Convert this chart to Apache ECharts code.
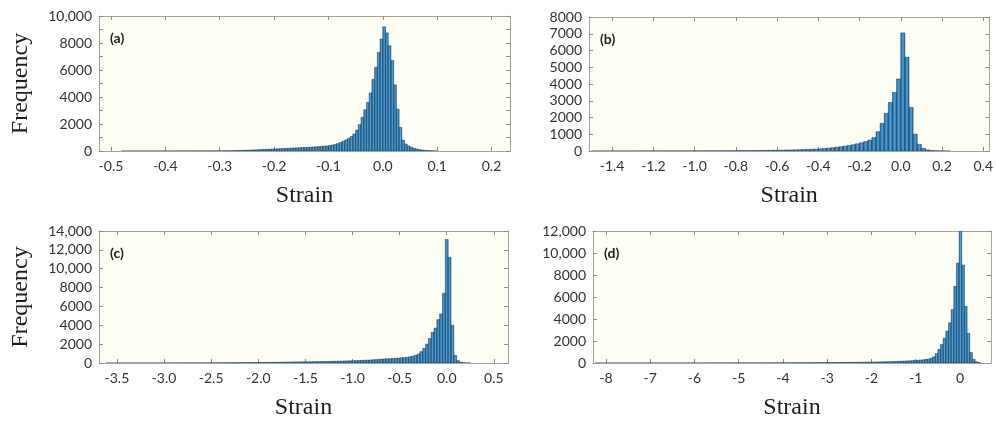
<!DOCTYPE html>
<html>
<head>
<meta charset="utf-8">
<script src="https://cdn.jsdelivr.net/npm/echarts@6/dist/echarts.min.js"></script>
<style>
  html, body { margin: 0; padding: 0; background: #ffffff; }
  #chart { width: 996px; height: 421px; }
</style>
</head>
<body>
<div id="chart"></div>
<script>
// ---- Histogram data: strain bins (start, width) and frequency counts ----

// (a) bins of 0.005 from -0.5 to 0.1
const aBinStart = -0.5;
const aBinWidth = 0.005;
const aCounts = [
  0, 0, 0, 0, 1, 1, 1, 1, 1, 1, 1, 1, 1, 1, 2, 2, 2, 2, 2, 2,
  3, 3, 3, 3, 4, 4, 4, 5, 5, 5, 6, 6, 7, 7, 8, 8, 9, 10, 11, 12,
  14, 16, 18, 21, 25, 30, 36, 42, 48, 55, 62, 70, 78, 86, 95, 105, 115, 125, 135, 145,
  155, 165, 175, 185, 195, 205, 215, 225, 235, 245, 255, 265, 275, 285, 297, 310, 325, 340, 357, 375,
  400, 440, 490, 550, 630, 720, 820, 940, 1080, 1260,
  1550, 1950, 2500, 3050, 3600, 4300, 5300, 6200, 7300, 8300,
  9200, 8750, 7800, 6700, 4900, 3100, 1750, 800, 520, 370,
  280, 210, 150, 105, 75, 50, 33, 20, 12, 6
];

// (b) bins of 0.02 from -1.5 to 0.3
const bBinStart = -1.5;
const bBinWidth = 0.02;
const bCounts = [
  1, 1, 1, 1, 1, 2, 2, 2, 2, 2, 3, 3, 3, 3, 4, 4, 4, 5, 5, 5,
  6, 6, 7, 7, 8, 9, 10, 11, 12, 13, 14, 15, 16, 17, 18,
  20, 22, 24, 26, 28, 31, 34, 37, 40, 44, 48, 52, 57, 62, 68, 75, 83, 92, 102, 115,
  130, 150, 170, 195, 225, 255, 290, 330, 375, 430, 490, 560, 650, 800, 1150, 1650, 2250, 2900, 3500, 4300,
  7050, 5600, 2600, 1000, 400, 160, 65, 28, 12, 5, 2, 1, 0, 0, 0
];

// (c) bins of 0.03 from -3.615 to 0.255
const cBinStart = -3.615;
const cBinWidth = 0.03;
const cCounts = [
  1, 1, 1, 1, 1, 2, 2, 2, 2, 2, 3, 3, 3, 3, 4, 4, 4, 4, 5, 5,
  5, 6, 6, 6, 7, 7, 8, 8, 9, 9, 10, 10, 11, 12, 12, 13, 14, 15,
  16, 18, 20, 22, 24, 26, 28, 30, 32, 34, 36, 38, 40, 43, 46, 49,
  52, 55, 59, 63, 67, 71, 75, 80, 85, 90, 95, 100, 105, 110, 115, 120,
  124, 128, 133, 138, 143, 149, 155, 161, 168, 175, 182, 190, 198, 206, 214, 222, 230,
  240, 250, 262, 275, 290, 305, 320, 340, 360, 380, 400, 430, 445, 460, 480, 500, 520,
  550, 580, 610, 660, 720, 820, 950, 1200, 1550, 2000, 2600, 3250, 3700, 4600, 5200, 7400,
  13100, 11200, 4000, 800, 250, 90, 30, 10, 3
];

// (d) bins of 0.06 from -8.24 to 0.46
const dBinStart = -8.24;
const dBinWidth = 0.06;
const dCounts = [
  1, 1, 1, 1, 1, 1, 1, 1, 1, 1,
  1, 1, 1, 1, 2, 2, 2, 2, 2, 2,
  2, 2, 2, 2, 2, 2, 2, 3, 3, 3,
  3, 3, 3, 3, 3, 4, 4, 4, 4, 4,
  5, 5, 5, 5, 6, 6, 6, 6, 7, 7,
  7, 8, 8, 8, 9, 9, 9, 10, 10, 11,
  11, 12, 12, 13, 13, 14, 14, 15, 15, 16,
  17, 18, 19, 20, 21, 22, 23, 24, 25, 26,
  27, 28, 29, 30, 32, 34, 36, 38, 40, 42,
  44, 46, 48, 50, 53, 56, 59, 62, 65, 68,
  71, 75, 79, 83, 87, 92, 97, 102, 107, 113,
  120, 127, 135, 143, 152, 162, 173, 185, 198, 212,
  228, 245, 265, 290, 320, 360, 430,
  560, 850, 1230, 1680, 2250, 2900, 3650, 4850, 6970, 9080,
  11950, 8900, 5150, 2700, 950, 330, 120, 40
];

// ---- Axis ranges and tick labels ----
const aStrainRange = [-0.522, 0.234];
const bStrainRange = [-1.512, 0.43];
const cStrainRange = [-3.69, 0.65];
const dStrainRange = [-8.29, 0.70];

const aStrainTicks = [-0.5, -0.4, -0.3, -0.2, -0.1, 0, 0.1, 0.2];
const bStrainTicks = [-1.4, -1.2, -1.0, -0.8, -0.6, -0.4, -0.2, 0, 0.2, 0.4];
const cStrainTicks = [-3.5, -3.0, -2.5, -2.0, -1.5, -1.0, -0.5, 0, 0.5];
const dStrainTicks = [-8, -7, -6, -5, -4, -3, -2, -1, 0];

const aFreqMax = 10000;
const bFreqMax = 8000;
const cFreqMax = 14000;
const dFreqMax = 12000;

const aFreqTicks = [0, 1000, 2000, 3000, 4000, 5000, 6000, 7000, 8000, 9000, 10000];
const aFreqLabels = [0, 2000, 4000, 6000, 8000, 10000];
const bFreqTicks = [0, 1000, 2000, 3000, 4000, 5000, 6000, 7000, 8000];
const bFreqLabels = [0, 1000, 2000, 3000, 4000, 5000, 6000, 7000, 8000];
const cFreqTicks = [0, 2000, 4000, 6000, 8000, 10000, 12000, 14000];
const cFreqLabels = [0, 2000, 4000, 6000, 8000, 10000, 12000, 14000];
const dFreqTicks = [0, 2000, 4000, 6000, 8000, 10000, 12000];
const dFreqLabels = [0, 2000, 4000, 6000, 8000, 10000, 12000];

const panelTags = ['(a)', '(b)', '(c)', '(d)'];
const xTitle = 'Strain';
const yTitle = 'Frequency';

// ---- Build the chart ----
const chart = echarts.init(document.getElementById('chart'), null, { renderer: 'canvas' });

const panels = [
  { start: aBinStart, width: aBinWidth, counts: aCounts, range: aStrainRange, xt: aStrainTicks, digits: 1,
    ymax: aFreqMax, yt: aFreqTicks, yl: aFreqLabels, yName: true,
    grid: { left: 99, top: 16, width: 411, height: 135 } },
  { start: bBinStart, width: bBinWidth, counts: bCounts, range: bStrainRange, xt: bStrainTicks, digits: 1,
    ymax: bFreqMax, yt: bFreqTicks, yl: bFreqLabels, yName: false,
    grid: { left: 589, top: 17, width: 402, height: 134 } },
  { start: cBinStart, width: cBinWidth, counts: cCounts, range: cStrainRange, xt: cStrainTicks, digits: 1,
    ymax: cFreqMax, yt: cFreqTicks, yl: cFreqLabels, yName: true,
    grid: { left: 99, top: 231, width: 409, height: 134 } },
  { start: dBinStart, width: dBinWidth, counts: dCounts, range: dStrainRange, xt: dStrainTicks, digits: 0,
    ymax: dFreqMax, yt: dFreqTicks, yl: dFreqLabels, yName: false,
    grid: { left: 593, top: 231, width: 398, height: 132 } }
];

const frameColor = '#a3a3a0';
const tickColor = '#8d8d80';
const labelColor = '#333333';
const labelFont = 'Lato, "Open Sans", sans-serif';
const titleFont = '"Liberation Serif", "DejaVu Serif", serif';

function freqFormat(v) {
  return v >= 10000 ? v.toLocaleString('en-US') : String(v);
}

const barFill = new echarts.graphic.LinearGradient(0, 0, 1, 0, [
  { offset: 0, color: '#1f5d90' },
  { offset: 0.5, color: '#4ca3d9' },
  { offset: 1, color: '#1f5d90' }
]);

function renderBin(params, api) {
  const count = api.value(2);
  if (!(count > 0)) return null;
  const top = api.coord([api.value(0), count]);
  const base = api.coord([api.value(1), 0]);
  const cs = params.coordSys;
  const shape = echarts.graphic.clipRectByRect(
    { x: top[0], y: top[1], width: base[0] - top[0], height: base[1] - top[1] },
    { x: cs.x, y: cs.y, width: cs.width, height: cs.height }
  );
  if (!shape) return null;
  return {
    type: 'rect',
    shape: shape,
    style: { fill: barFill, stroke: '#173a58', lineWidth: 0.5 }
  };
}

const grids = [], xAxes = [], yAxes = [], series = [], titles = [];

panels.forEach((p, i) => {
  grids.push(Object.assign({ show: true, backgroundColor: '#fefef4', borderWidth: 0 }, p.grid));

  const xFmt = v => p.digits ? Number(v).toFixed(p.digits) : String(Math.round(v));
  const xBase = {
    type: 'value', gridIndex: i, min: p.range[0], max: p.range[1],
    splitLine: { show: false },
    axisLine: { show: true, onZero: false, lineStyle: { color: frameColor, width: 1 } },
    axisTick: { show: true, inside: true, length: 4, customValues: p.xt, lineStyle: { color: tickColor } }
  };
  xAxes.push(Object.assign({}, xBase, {
    position: 'bottom',
    axisLabel: { show: true, customValues: p.xt, formatter: xFmt, margin: 8,
      color: labelColor, fontFamily: labelFont, fontSize: 14 },
    name: xTitle, nameLocation: 'middle', nameGap: 33,
    nameTextStyle: { fontFamily: titleFont, fontSize: 24, color: '#1e1e1e' }
  }));
  xAxes.push(Object.assign({}, xBase, { position: 'top', axisLabel: { show: false } }));

  const yBase = {
    type: 'value', gridIndex: i, min: 0, max: p.ymax,
    splitLine: { show: false },
    axisLine: { show: true, onZero: false, lineStyle: { color: frameColor, width: 1 } },
    axisTick: { show: true, inside: true, length: 4, customValues: p.yt, lineStyle: { color: tickColor } }
  };
  const yLeft = Object.assign({}, yBase, {
    position: 'left',
    axisLabel: { show: true, customValues: p.yl, formatter: freqFormat, margin: 7,
      color: labelColor, fontFamily: labelFont, fontSize: 14 }
  });
  if (p.yName) {
    Object.assign(yLeft, {
      name: yTitle, nameLocation: 'middle', nameGap: 66,
      nameTextStyle: { fontFamily: titleFont, fontSize: 24, color: '#1e1e1e' }
    });
  }
  yAxes.push(yLeft);
  yAxes.push(Object.assign({}, yBase, { position: 'right', axisLabel: { show: false } }));

  series.push({
    type: 'custom',
    xAxisIndex: 2 * i,
    yAxisIndex: 2 * i,
    renderItem: renderBin,
    encode: { x: [0, 1], y: 2 },
    data: p.counts.map((c, k) => [p.start + k * p.width, p.start + (k + 1) * p.width, c]),
    clip: true,
    silent: true
  });

  titles.push({
    text: panelTags[i],
    left: p.grid.left + 6,
    top: p.grid.top + 10,
    textStyle: { fontFamily: labelFont, fontSize: 14, fontWeight: 'bold', color: '#222' }
  });
});

chart.setOption({
  animation: false,
  backgroundColor: '#ffffff',
  title: titles,
  grid: grids,
  xAxis: xAxes,
  yAxis: yAxes,
  series: series
});
</script>
</body>
</html>
